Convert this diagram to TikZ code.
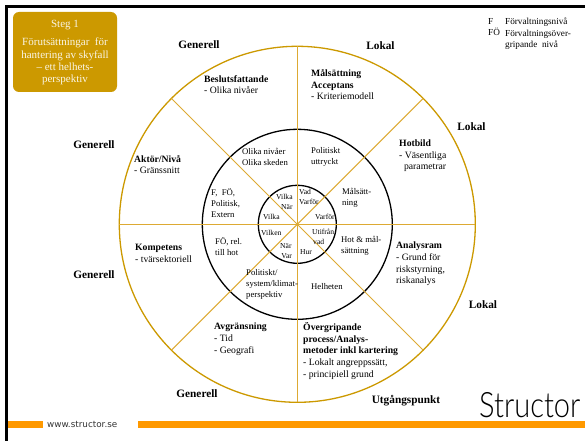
\documentclass[tikz,border=0pt]{standalone}
\usepackage{fontspec}
\setmainfont{Liberation Serif}
\newfontfamily\websitefont{DejaVu Sans}
\newfontfamily\logofont{Lato}[UprightFont=* Light]
\usepackage{xcolor}
\definecolor{boxgold}{HTML}{CC9900}
\definecolor{spokegold}{HTML}{DDAA33}
\definecolor{barorange}{HTML}{FF9900}
\tikzset{
  ring/.style={draw, circle, outer sep=0pt, inner sep=0pt},
  spoke/.style={spokegold, line width=1pt},
  sector/.style={anchor=north west, inner sep=0pt, align=left, font=\fontsize{9.7}{11.6}\selectfont},
  legendtext/.style={anchor=north west, inner sep=0pt, align=left, font=\fontsize{9.2}{11.5}\selectfont},
  midtext/.style={anchor=north west, inner sep=0pt, align=left, font=\fontsize{8.7}{11}\selectfont},
  hubtext/.style={anchor=north west, inner sep=0pt, align=left, font=\fontsize{7.6}{10}\selectfont},
  scope label/.style={anchor=center, inner sep=0pt, font=\fontsize{11.3}{12}\selectfont\bfseries},
}
\begin{document}
\begin{tikzpicture}[x=1pt, y=-1pt]
  \useasboundingbox (0, 0) rectangle (585, 441);
  \fill[white] (0, 0) rectangle (585, 441);
  % frame and footer
  \fill[black] (5, 5) rectangle (585, 8);
  \fill[black] (5, 5) rectangle (7.5, 441);
  \fill[barorange] (8, 420.5) rectangle (43, 427.5);
  \fill[barorange] (138, 420.5) rectangle (585, 427.5);
  \node[anchor=west, inner sep=0pt, font=\websitefont\fontsize{8.8}{10}\selectfont, text=black!80] (website) at (47, 424.5) {www.structor.se};
  \node[anchor=base west, inner sep=0pt, xscale=0.83, font=\logofont\fontsize{35}{35}\selectfont] (logo) at (479, 417.5) {Structor};
  % rings
  \node[ring, minimum size=356pt, boxgold, line width=1.3pt] (outer) at (297.3, 224.3) {};
  \node[ring, minimum size=190pt, line width=1.3pt] (middle) at (297.3, 224.3) {};
  \node[ring, minimum size=78pt, line width=1.3pt] (inner) at (297.3, 224.3) {};
  \foreach \a in {0, 45, ..., 315} {
    \draw[spoke] (outer.center) -- (outer.\a);
  }
  % step box
  \node[fill=boxgold, rounded corners=6pt, minimum width=104pt, minimum height=80pt, inner sep=0pt] (stepbox) at (65, 52) {};
  \node[text=white!90!boxgold, align=center, inner sep=0pt, font=\fontsize{11}{12}\selectfont] (steptitle) at (65, 25) {Steg 1};
  \node[text=white!90!boxgold, align=center, inner sep=0pt, font=\fontsize{11}{12.2}\selectfont] (steptext) at (65, 61.5) {Förutsättningar\ \ för\\hantering av skyfall\\– ett helhets-\\perspektiv};
  % legend
  \node[legendtext] (legendkey) at (488, 18) {F\\FÖ};
  \node[legendtext] (legendtext) at (505, 18) {Förvaltningsnivå\\Förvaltningsöver-\\gripande\ \ nivå};
  % scope labels
  \foreach \n/\x/\y/\t in {a/199/45/Generell, b/380.5/46/Lokal, c/471.5/127/Lokal, d/483/305/Lokal,
    e/406/401/Utgångspunkt, f/197/394/Generell, g/94/275/Generell, h/94/145/Generell} {
    \node[scope label] (scope\n) at (\x, \y) {\t};
  }
  % sectors
  \node[sector] (beslut) at (204, 75) {\textbf{Beslutsfattande}\\- Olika nivåer};
  \node[sector] (malsattning) at (311, 69.5) {\textbf{Målsättning}\\\textbf{Acceptans}\\- Kriteriemodell};
  \node[sector] (hotbild) at (399, 139.5) {\textbf{Hotbild}\\- Väsentliga\\\ \ parametrar};
  \node[sector] (aktor) at (134, 155) {\textbf{Aktör/Nivå}\\- Gränssnitt};
  \node[sector] (kompetens) at (135, 244) {\textbf{Kompetens}\\- tvärsektoriell};
  \node[sector] (analysram) at (396, 242) {\textbf{Analysram}\\- Grund för\\riskstyrning,\\riskanalys};
  \node[sector] (avgransning) at (214, 323) {\textbf{Avgränsning}\\- Tid\\- Geografi};
  \node[sector] (process) at (303, 322.5) {\textbf{Övergripande}\\\textbf{process/Analys-}\\\textbf{metoder inkl kartering}\\- Lokalt angreppssätt,\\- principiell grund};
  % middle ring
  \foreach \n/\x/\y/\t in {ma/242/147.5/{Olika nivåer\\Olika skeden}, mb/311/147.5/{Politiskt\\uttryckt},
    mc/342/187.5/{Målsätt-\\ning}, md/341/235.5/{Hot \& mål-\\sättning}, me/311/283.5/Helheten,
    mf/246/269.5/{Politiskt/\\system/klimat-\\perspektiv}, mg/215/237.5/{FÖ, rel.\\till hot},
    mh/211/188.5/{F,\ \ FÖ,\\Politisk,\\Extern}} {
    \node[midtext] (\n) at (\x, \y) {\t};
  }
  % hub
  \foreach \n/\x/\y/\t in {ha/276/194/Vilka, hb/281/204/När, hc/299/189/{Vad\\Varför}, hd/315/214/Varför,
    he/312/229/Utifrån, hf/313/239/vad, hg/300/249/Hur, hh/280/243/{När\\\,Var}, hi/261/230/Vilken, hj/263/214/Vilka} {
    \node[hubtext] (\n) at (\x, \y) {\t};
  }
\end{tikzpicture}
\end{document}
